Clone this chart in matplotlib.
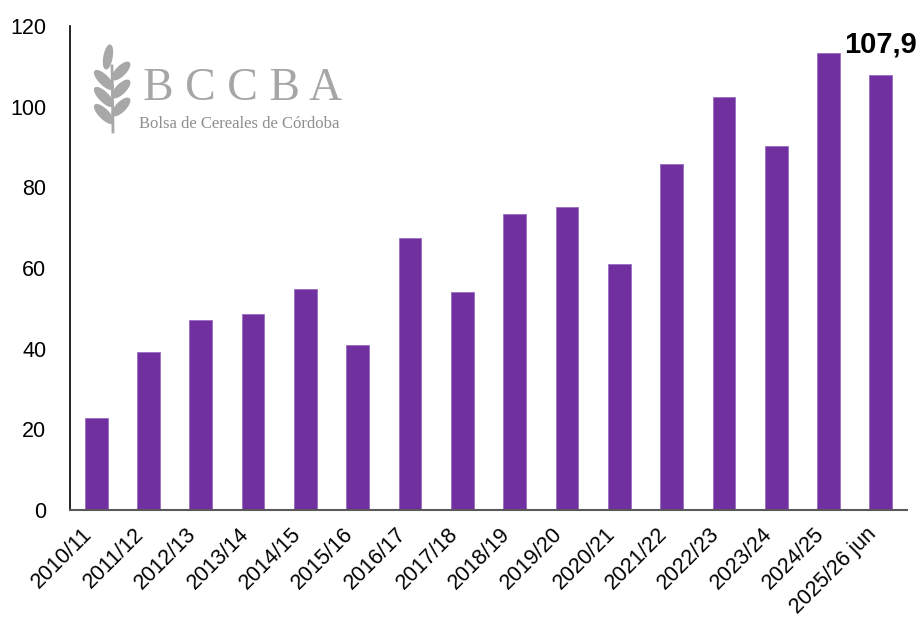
import numpy as np
import matplotlib.pyplot as plt
from matplotlib.patches import Polygon

# campaigns and values
campaigns = ['2010/11', '2011/12', '2012/13', '2013/14', '2014/15', '2015/16',
             '2016/17', '2017/18', '2018/19', '2019/20', '2020/21', '2021/22',
             '2022/23', '2023/24', '2024/25', '2025/26 jun']
values = [22.7, 39.2, 47.0, 48.5, 54.7, 40.9, 67.5, 54.0, 73.3, 75.1,
          60.9, 85.9, 102.4, 90.2, 113.2, 107.9]
y_ticks = [0, 20, 40, 60, 80, 100, 120]

plt.rcParams['font.family'] = ['Liberation Sans', 'DejaVu Sans']

W, H = 919, 623
fig = plt.figure(figsize=(W / 100, H / 100), dpi=100)
ax = fig.add_axes([70 / W, (H - 510) / H, (907 - 70) / W, (510 - 26) / H])
ax.patch.set_alpha(0)

x = np.arange(len(campaigns))
ax.bar(x, values, width=0.434, color='#7030A0', edgecolor='#9a6cc2', linewidth=0.6, zorder=2)

ax.set_xlim(-0.5, len(campaigns) - 0.5)
ax.set_ylim(0, 120)
ax.set_yticks(y_ticks)
ax.set_xticks(x)
ax.set_xticklabels(campaigns, rotation=45, ha='right', rotation_mode='default')
ax.tick_params(axis='y', length=0, pad=17, labelsize=15.5)
ax.tick_params(axis='x', length=0, pad=10, labelsize=15.5)

for s in ['top', 'right']:
    ax.spines[s].set_visible(False)
ax.spines['left'].set_color('black')
ax.spines['left'].set_linewidth(1.2)
ax.spines['bottom'].set_color('#595959')
ax.spines['bottom'].set_linewidth(1.5)
ax.spines['bottom'].set_zorder(3)

# label on the last bar
last = len(values) - 1
ax.text(x[last], 115.3, f"{values[last]:.1f}".replace('.', ','),
        ha='center', va='center', fontsize=21, fontweight='bold', clip_on=False)

# BCCBA logo (watermark)
fig.text(143 / W, (H - 100) / H, 'B C C B A', fontsize=33, color='#a6a6a6',
         family='Liberation Serif', va='baseline', ha='left')
fig.text(139 / W, (H - 128) / H, 'Bolsa de Cereales de Córdoba', fontsize=12,
         color='#8f8f8f', family='Liberation Serif', va='baseline', ha='left')

logo = fig.add_axes([0, 0, 1, 1], zorder=-1)
logo.set_xlim(0, W)
logo.set_ylim(0, H)
logo.axis('off')
grey = '#a8a8a8'


def leaf(cx, cy, length, width, angle):
    t = np.linspace(0, np.pi, 20)
    along = -np.cos(t) * length / 2
    side = np.sin(t) * width / 2
    pts = np.concatenate([np.c_[along, side], np.c_[along[::-1], -side[::-1]]])
    a = np.deg2rad(angle)
    rot = np.array([[np.cos(a), -np.sin(a)], [np.sin(a), np.cos(a)]])
    return Polygon(pts @ rot.T + [cx, H - cy], closed=True, color=grey)


logo.plot([112, 113], [H - 66, H - 132], color=grey, lw=2)
logo.add_patch(leaf(108, 57, 24, 8, 80))
for yy in [80, 97, 114]:
    logo.add_patch(leaf(104, yy, 25, 9, 135))
for yy in [71, 89, 107]:
    logo.add_patch(leaf(121, yy, 23, 9, 45))

fig.savefig('out.png', dpi=100)
